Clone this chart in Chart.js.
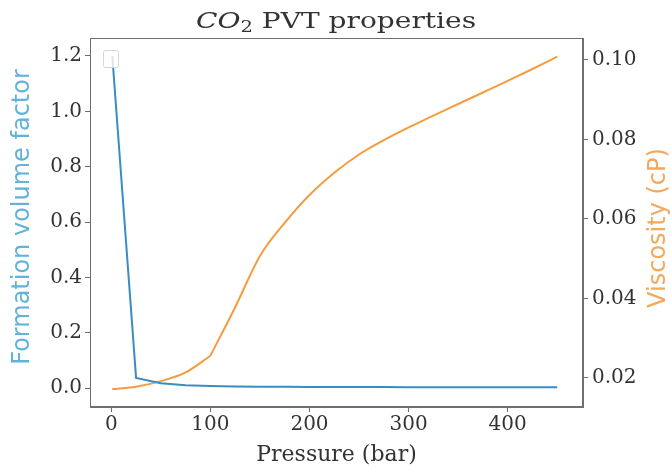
<!DOCTYPE html>
<html>
<head>
<meta charset="utf-8">
<script src="https://cdn.jsdelivr.net/npm/chart.js@4/dist/chart.umd.min.js"></script>
<style>
  html, body { margin: 0; padding: 0; background: #fff; }
  #wrap { width: 670px; height: 468px; }
</style>
</head>
<body>
<div id="wrap"><canvas id="pvtChart" width="670" height="468"></canvas></div>
<script>
// data
const pressure = [1, 25, 50, 75, 100, 125, 150, 175, 200, 225, 250, 275, 300, 325, 350, 375, 400, 425, 450];
const formationVolumeFactor = [1.2, 0.037, 0.018, 0.011, 0.008, 0.0065, 0.0055, 0.005, 0.0046, 0.0043, 0.004, 0.0038, 0.0036, 0.0035, 0.0034, 0.0033, 0.0032, 0.0031, 0.003];
const viscosity = [0.0172, 0.0178, 0.0192, 0.0214, 0.0256, 0.0378, 0.0507, 0.059, 0.066, 0.0716, 0.0762, 0.0798, 0.083, 0.086, 0.0889, 0.0918, 0.0947, 0.0977, 0.1008];

const xTicks = [0, 100, 200, 300, 400];
const fvfTicks = [0.0, 0.2, 0.4, 0.6, 0.8, 1.0, 1.2];
const viscTicks = [0.02, 0.04, 0.06, 0.08, 0.10];

const blue = '#3a8dc3';
const orange = '#f49c3f';
const axisGrey = '#6e6e6e';
const serif = "'DejaVu Serif', serif";
const sans = "'DejaVu Sans', sans-serif";

// viscosity has a kink at 100 bar, so draw it as two smooth pieces
const kink = pressure.indexOf(100);
const viscPoints = pressure.map((p, i) => ({ x: p, y: viscosity[i] }));

// 旋转文字
function drawVertical(ctx, text, x, y, font, color) {
    ctx.save();
    ctx.translate(x, y);
    ctx.rotate(-Math.PI / 2);
    ctx.font = font;
    ctx.fillStyle = color;
    ctx.textAlign = 'center';
    ctx.textBaseline = 'middle';
    ctx.fillText(text, 0, 0);
    ctx.restore();
}

// 标题、外框、轴标题和空图例
const framePlugin = {
    id: 'frame',
    afterDraw(chart) {
        const { ctx, chartArea: a } = chart;
        ctx.save();
        ctx.strokeStyle = axisGrey;
        ctx.lineWidth = 1;
        ctx.strokeRect(a.left + 0.5, a.top + 0.5, a.right - a.left - 1, a.bottom - a.top - 1);

        // empty legend box
        ctx.fillStyle = 'rgba(255,255,255,0.8)';
        ctx.strokeStyle = '#d6d6d6';
        ctx.beginPath();
        ctx.roundRect(a.left + 13.5, a.top + 12.5, 15, 17, 2);
        ctx.fill();
        ctx.stroke();

        // y axis titles
        drawVertical(ctx, 'Formation volume factor', 23, 217, '24px ' + sans, '#62b2da');
        drawVertical(ctx, 'Viscosity (cP)', 659, 228, '24px ' + sans, '#f2a95c');

        // title: CO2 PVT properties
        ctx.fillStyle = '#333';
        ctx.textBaseline = 'alphabetic';
        ctx.textAlign = 'left';
        const fMain = '23px ' + serif;
        const fItal = 'italic 23px ' + serif;
        const fSub = '16px ' + serif;
        ctx.font = fItal; const wCO = ctx.measureText('CO').width;
        ctx.font = fSub; const w2 = ctx.measureText('2').width;
        ctx.font = fMain; const wRest = ctx.measureText(' PVT properties').width;
        const sx = 1.22;
        const total = (wCO + w2 + wRest) * sx;
        ctx.translate(336 - total / 2, 28);
        ctx.scale(sx, 1);
        let x = 0;
        ctx.font = fItal; ctx.fillText('CO', x, 0); x += wCO;
        ctx.font = fSub; ctx.fillText('2', x, 4); x += w2;
        ctx.font = fMain; ctx.fillText(' PVT properties', x, 0);
        ctx.restore();
    }
};

const ctx = document.getElementById('pvtChart').getContext('2d');
new Chart(ctx, {
    type: 'line',
    data: {
        datasets: [{
            label: 'Formation volume factor',
            data: pressure.map((p, i) => ({ x: p, y: formationVolumeFactor[i] })),
            borderColor: blue,
            borderWidth: 2,
            pointRadius: 0,
            yAxisID: 'yFvf'
        }, {
            label: 'Viscosity (cP)',
            data: viscPoints.slice(0, kink + 1),
            borderColor: orange,
            borderWidth: 2,
            pointRadius: 0,
            cubicInterpolationMode: 'monotone',
            yAxisID: 'yVisc'
        }, {
            label: 'Viscosity (cP) high',
            data: viscPoints.slice(kink),
            borderColor: orange,
            borderWidth: 2,
            pointRadius: 0,
            cubicInterpolationMode: 'monotone',
            yAxisID: 'yVisc'
        }]
    },
    options: {
        responsive: false,
        animation: false,
        layout: { padding: { top: 38, left: 0, right: 0, bottom: 0 } },
        plugins: { legend: { display: false }, tooltip: { enabled: false } },
        scales: {
            x: {
                type: 'linear',
                min: -21.5,
                max: 476,
                afterBuildTicks: s => { s.ticks = xTicks.map(v => ({ value: v })); },
                afterFit: s => { s.height = 61; },
                grid: { drawOnChartArea: false, color: axisGrey, tickLength: 5 },
                border: { color: axisGrey },
                ticks: { color: '#333', font: { family: serif, size: 20 }, padding: 1, maxRotation: 0 },
                title: { display: true, text: 'Pressure (bar)', color: '#333', font: { family: serif, size: 22 }, padding: { top: 0, bottom: 0 } }
            },
            yFvf: {
                type: 'linear',
                position: 'left',
                min: -0.068,
                max: 1.265,
                afterBuildTicks: s => { s.ticks = fvfTicks.map(v => ({ value: v })); },
                afterFit: s => { s.width = 90; },
                grid: { drawOnChartArea: false, color: axisGrey, tickLength: 5 },
                border: { color: axisGrey },
                ticks: { color: '#333', font: { family: serif, size: 20 }, padding: 3, callback: v => v.toFixed(1) }
            },
            yVisc: {
                type: 'linear',
                position: 'right',
                min: 0.0127,
                max: 0.1055,
                afterBuildTicks: s => { s.ticks = viscTicks.map(v => ({ value: v })); },
                afterFit: s => { s.width = 87; },
                grid: { drawOnChartArea: false, color: axisGrey, tickLength: 5 },
                border: { color: axisGrey },
                ticks: { color: '#333', font: { family: serif, size: 20 }, padding: 4, callback: v => v.toFixed(2) }
            }
        }
    },
    plugins: [framePlugin]
});
</script>
</body>
</html>
